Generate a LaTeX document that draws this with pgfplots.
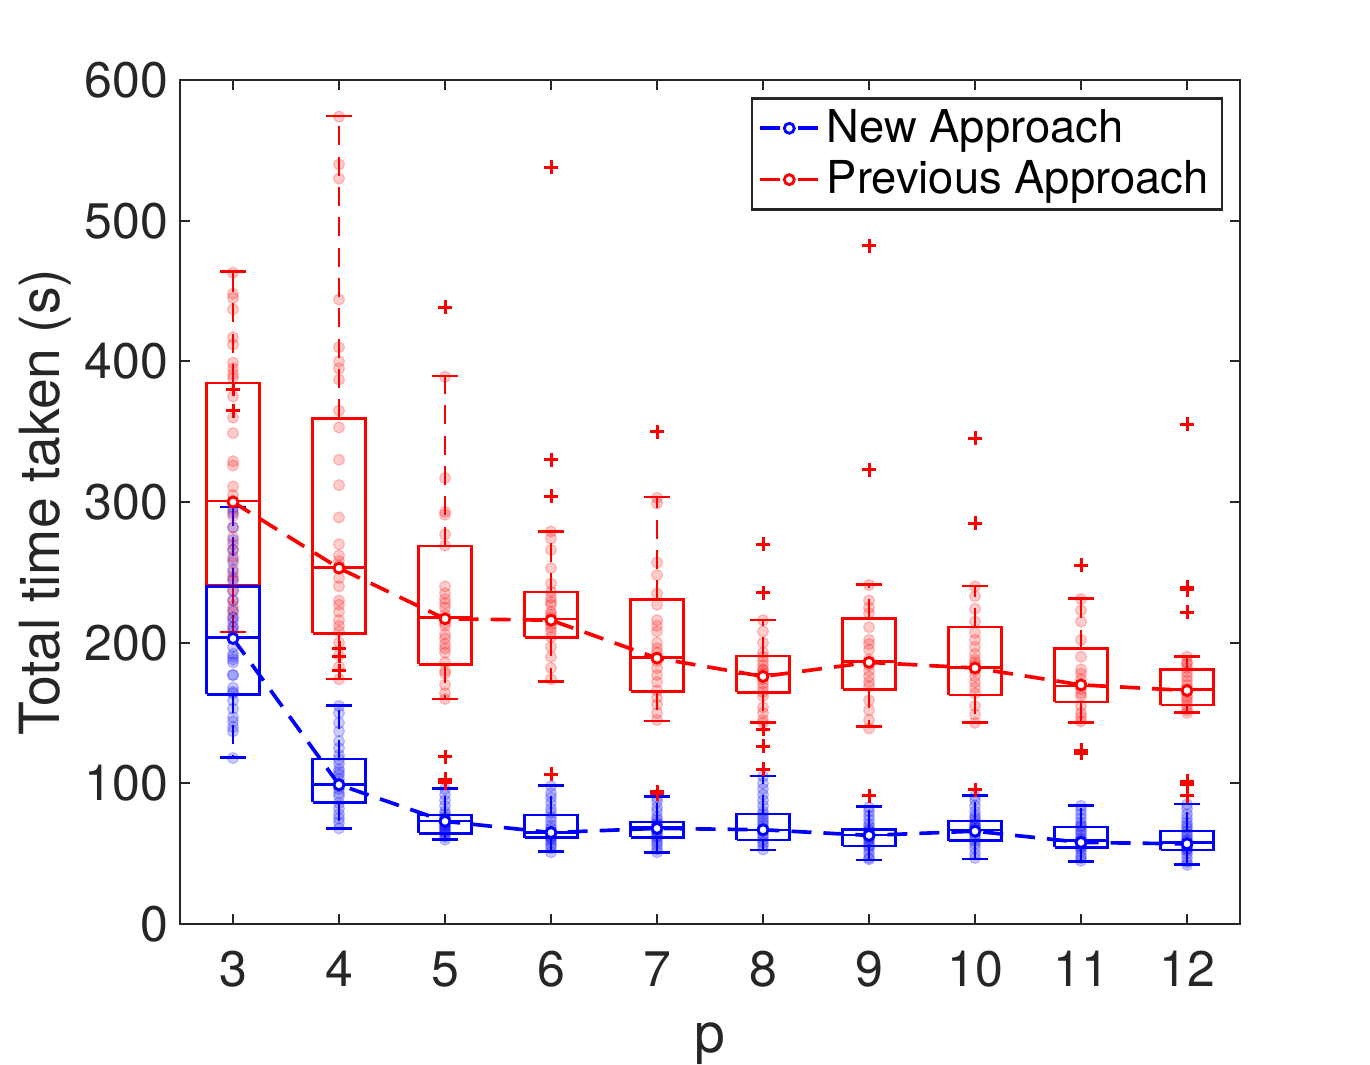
\documentclass[border=0pt]{standalone}
\usepackage{fontspec}
\setmainfont{TeX Gyre Heros}
\usepackage{pgfplots}
\pgfplotsset{compat=1.18}
\definecolor{axgray}{gray}{0.15}
\pgfplotsset{
  bx/.style={forget plot, color=#1, line width=0.75pt, solid},
  wk/.style={forget plot, color=#1, line width=0.75pt, dash pattern=on 5.7pt off 3.4pt},
  pts/.style={forget plot, only marks, mark=*, mark size=1.65pt, color=#1, opacity=0.2},
  meanline/.style={color=#1, line width=1.1pt, dash pattern=on 6pt off 3.6pt,
    mark=*, mark size=1.5pt, mark options={solid, fill=white, line width=0.85pt},
    legend image code/.code={
      \draw[##1, solid] (0pt,0pt) -- (6pt,0pt) (11.4pt,0pt) -- (17.4pt,0pt);
      \draw[##1, solid] plot coordinates {(8.7pt,0pt)};
    }
  },
}
% color, pos, lower whisker, q1, median, q3, upper whisker
\newcommand{\BX}[7]{%
  \pgfmathsetmacro\bxl{#2-0.25}\pgfmathsetmacro\bxr{#2+0.25}%
  \pgfmathsetmacro\cxl{#2-0.125}\pgfmathsetmacro\cxr{#2+0.125}%
  \edef\bxtmp{%
    \noexpand\addplot[bx=#1] coordinates {(\bxl,#4)(\bxr,#4)(\bxr,#6)(\bxl,#6)(\bxl,#4)};
    \noexpand\addplot[bx=#1] coordinates {(\bxl,#5)(\bxr,#5)};
    \noexpand\addplot[bx=#1] coordinates {(\cxl,#3)(\cxr,#3)};
    \noexpand\addplot[bx=#1] coordinates {(\cxl,#7)(\cxr,#7)};
    \noexpand\addplot[wk=#1] coordinates {(#2,#4)(#2,#3)};
    \noexpand\addplot[wk=#1] coordinates {(#2,#6)(#2,#7)};
  }%
  \bxtmp
}
\begin{document}
\begin{tikzpicture}
\begin{axis}[name=ax,
  scale only axis, width=318pt, height=253.2pt,
  xmin=2.5, xmax=12.5, ymin=0, ymax=600,
  xtick={3,4,5,6,7,8,9,10,11,12},
  ytick={0,100,200,300,400,500,600},
  tick align=inside, major tick length=3pt,
  axis line style={axgray, line width=0.6pt},
  every tick/.style={axgray, line width=0.6pt},
  tick label style={font=\fontsize{15}{17}\selectfont, text=axgray},
  /pgf/number format/assume math mode=true,
  xticklabel style={anchor=base, yshift=-18.6pt},
  xlabel={p}, ylabel={Total time taken (s)},
  label style={font=\fontsize{16.6}{19}\selectfont, text=axgray},
  xlabel style={at={(axis description cs:0.5,0)}, anchor=base, yshift=-38.4pt},
  ylabel style={at={(axis description cs:-0.127,0.5)}, anchor=center},
  legend style={at={(1,1)}, anchor=north east, xshift=-5.1pt, yshift=-5.1pt,
    font=\fontsize{13.6}{16}\selectfont, draw=axgray, line width=0.75pt,
    inner xsep=2pt, inner ysep=1.3pt, cells={anchor=west}},
  clip=false,
]
% scattered observations
\addplot[pts=red] coordinates {
(3,463)(3,448)(3,445)(3,437)(3,417)(3,412)(3,399)(3,395)(3,391)(3,388)(3,375)(3,360)(3,349)(3,329)(3,326)(3,311)(3,301)(3,294)(3,282)(3,275)(3,266)(3,261)(3,257)(3,247)(3,237)(3,230)(3,226)(3,218)(3,211)(3,270)(3,250)(3,244)(3,222)(3,290)(3,305)
(4,574)(4,540)(4,530)(4,444)(4,410)(4,400)(4,395)(4,387)(4,365)(4,353)(4,330)(4,312)(4,289)(4,270)(4,262)(4,255)(4,246)(4,230)(4,227)(4,216)(4,212)(4,208)(4,200)(4,191)(4,183)(4,174)(4,240)(4,258)(4,222)
(5,389)(5,317)(5,293)(5,291)(5,277)(5,269)(5,235)(5,231)(5,225)(5,220)(5,217)(5,212)(5,206)(5,199)(5,193)(5,186)(5,180)(5,178)(5,170)(5,164)(5,160)(5,240)(5,228)(5,214)(5,203)(5,196)
(6,279)(6,274)(6,266)(6,253)(6,242)(6,236)(6,232)(6,227)(6,222)(6,216)(6,211)(6,204)(6,197)(6,190)(6,182)(6,174)(6,220)(6,218)(6,213)(6,208)(6,229)
(7,303)(7,299)(7,257)(7,248)(7,235)(7,227)(7,216)(7,208)(7,200)(7,193)(7,187)(7,182)(7,177)(7,172)(7,166)(7,161)(7,156)(7,150)(7,145)(7,212)(7,196)
(8,216)(8,208)(8,200)(8,190)(8,187)(8,184)(8,181)(8,178)(8,176)(8,174)(8,171)(8,168)(8,165)(8,162)(8,154)(8,150)(8,145)(8,143)(8,193)(8,180)
(9,241)(9,230)(9,225)(9,221)(9,211)(9,202)(9,195)(9,188)(9,184)(9,180)(9,176)(9,172)(9,169)(9,159)(9,152)(9,145)(9,139)(9,199)(9,186)
(10,240)(10,233)(10,224)(10,215)(10,207)(10,197)(10,192)(10,188)(10,184)(10,180)(10,176)(10,172)(10,168)(10,164)(10,155)(10,149)(10,143)(10,202)(10,186)
(11,231)(11,223)(11,215)(11,202)(11,190)(11,181)(11,174)(11,170)(11,167)(11,164)(11,162)(11,155)(11,150)(11,147)(11,144)(11,178)
(12,190)(12,185)(12,182)(12,179)(12,176)(12,173)(12,170)(12,167)(12,165)(12,162)(12,160)(12,158)(12,155)(12,152)(12,150)(12,186)
};
\addplot[pts=blue] coordinates {
(3,296)(3,292)(3,282)(3,273)(3,266)(3,259)(3,252)(3,245)(3,237)(3,230)(3,223)(3,218)(3,211)(3,203)(3,197)(3,192)(3,188)(3,177)(3,168)(3,164)(3,190)(3,186)(3,177)(3,165)(3,159)(3,153)(3,147)(3,144)(3,140)(3,137)(3,118)(3,208)(3,215)
(4,155)(4,150)(4,143)(4,137)(4,130)(4,125)(4,120)(4,117)(4,114)(4,110)(4,106)(4,103)(4,100)(4,98)(4,96)(4,93)(4,91)(4,86)(4,82)(4,78)(4,75)(4,72)(4,68)(4,108)
(5,96)(5,92)(5,88)(5,84)(5,80)(5,78)(5,76)(5,75)(5,74)(5,73)(5,72)(5,71)(5,70)(5,69)(5,68)(5,67)(5,66)(5,65)(5,64)(5,62)(5,60)
(6,98)(6,93)(6,90)(6,86)(6,82)(6,79)(6,76)(6,73)(6,70)(6,68)(6,66)(6,65)(6,64)(6,63)(6,62)(6,61)(6,60)(6,58)(6,56)(6,54)(6,51)
(7,90)(7,87)(7,83)(7,80)(7,76)(7,74)(7,72)(7,71)(7,70)(7,69)(7,68)(7,67)(7,66)(7,65)(7,63)(7,62)(7,60)(7,58)(7,56)(7,53)(7,51)
(8,105)(8,100)(8,96)(8,92)(8,88)(8,84)(8,80)(8,78)(8,76)(8,74)(8,72)(8,70)(8,68)(8,67)(8,66)(8,64)(8,62)(8,60)(8,58)(8,56)(8,53)
(9,83)(9,80)(9,77)(9,74)(9,71)(9,69)(9,67)(9,66)(9,65)(9,64)(9,63)(9,62)(9,61)(9,60)(9,58)(9,56)(9,55)(9,53)(9,50)(9,47)(9,46)
(10,91)(10,88)(10,84)(10,80)(10,77)(10,75)(10,73)(10,71)(10,70)(10,69)(10,68)(10,67)(10,66)(10,65)(10,63)(10,61)(10,59)(10,57)(10,54)(10,50)(10,47)
(11,84)(11,81)(11,78)(11,75)(11,72)(11,70)(11,69)(11,67)(11,65)(11,63)(11,61)(11,60)(11,59)(11,58)(11,57)(11,56)(11,55)(11,54)(11,52)(11,49)(11,47)(11,45)
(12,85)(12,82)(12,78)(12,75)(12,72)(12,70)(12,68)(12,66)(12,64)(12,62)(12,60)(12,59)(12,58)(12,57)(12,56)(12,55)(12,54)(12,53)(12,52)(12,50)(12,47)(12,44)(12,42)
};
% boxes: Previous Approach (red)
\BX{red}{3}{207.6}{241}{300.7}{384.6}{464}
\BX{red}{4}{174.2}{206.6}{253.6}{359.4}{574.4}
\BX{red}{5}{160}{184.6}{217.8}{268.9}{389.5}
\BX{red}{6}{172.3}{203.8}{216.8}{236}{279.2}
\BX{red}{7}{144.3}{165.4}{189.6}{230.8}{303.5}
\BX{red}{8}{143.1}{164.7}{177.7}{190.5}{216.3}
\BX{red}{9}{140.3}{166.8}{186.5}{217.3}{241.5}
\BX{red}{10}{143.1}{162.8}{182.3}{211.1}{240.3}
\BX{red}{11}{143.1}{157.8}{169.2}{195.7}{231.3}
\BX{red}{12}{150.2}{155.7}{166.8}{181}{190}
% boxes: New Approach (blue)
\BX{blue}{3}{118.2}{163.2}{203.8}{239.8}{296.4}
\BX{blue}{4}{68}{86.5}{99.3}{117.3}{155.2}
\BX{blue}{5}{60.2}{64.5}{73.2}{77.5}{96.2}
\BX{blue}{6}{51.4}{61.4}{65}{77.5}{98.3}
\BX{blue}{7}{50.7}{61.6}{68.5}{72.7}{90.5}
\BX{blue}{8}{52.6}{59.7}{66.8}{78.2}{105.2}
\BX{blue}{9}{45.5}{55.5}{63.3}{67.3}{83.4}
\BX{blue}{10}{46.2}{59.2}{66.8}{73.2}{91.2}
\BX{blue}{11}{44.3}{54.5}{59.2}{69.1}{84.1}
\BX{blue}{12}{42.4}{52.6}{57.8}{66.1}{85.3}
% mean lines
\addplot[meanline=blue] coordinates {(3,203)(4,99)(5,73)(6,65)(7,68)(8,67)(9,63)(10,66)(11,58)(12,57)};
\addlegendentry{New Approach}
\addplot[meanline=red] coordinates {(3,300)(4,253)(5,217)(6,216)(7,189)(8,176)(9,186)(10,182)(11,170)(12,166)};
\addlegendentry{Previous Approach}
% outliers
\addplot[forget plot, only marks, mark=+, mark size=2.1pt, color=red, mark options={line width=0.9pt}] coordinates {
(3,380)(3,365)
(4,196)(4,190.5)(4,180)
(5,438.6)(5,119)(5,103)(5,100.4)
(6,538)(6,330)(6,304)(6,106.6)
(7,350)(7,94)(7,92.5)
(8,270)(8,235.5)(8,138.4)(8,126.5)(8,110)
(9,482)(9,323)(9,91.2)
(10,345.3)(10,284.8)(10,95.3)
(11,255)(11,123.5)(11,121.5)
(12,355.2)(12,239.5)(12,237.5)(12,221.6)(12,101.5)(12,99.5)(12,91.2)
};
\end{axis}
\pgfresetboundingbox
\path ([shift={(-54pt,-42pt)}]ax.south west) rectangle ([shift={(39pt,24pt)}]ax.north east);
\end{tikzpicture}
\end{document}
